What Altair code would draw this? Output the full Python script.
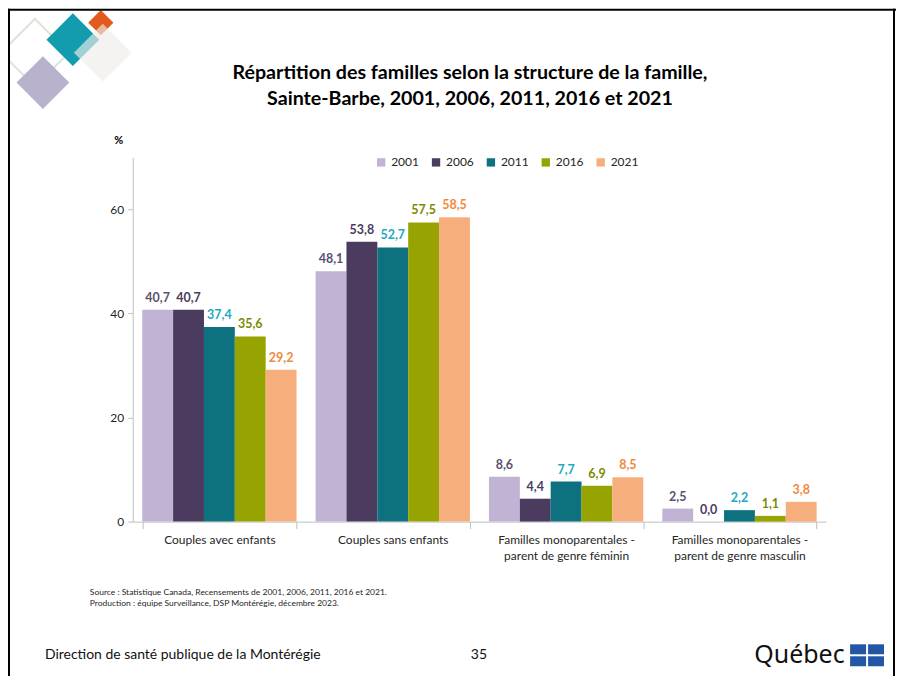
import altair as alt
import pandas as pd

# ---- data ----
categories = [
    "Couples avec enfants",
    "Couples sans enfants",
    "Familles monoparentales -|parent de genre féminin",
    "Familles monoparentales -|parent de genre masculin",
]
years = ["2001", "2006", "2011", "2016", "2021"]
values_2001 = [40.7, 48.1, 8.6, 2.5]
values_2006 = [40.7, 53.8, 4.4, 0.0]
values_2011 = [37.4, 52.7, 7.7, 2.2]
values_2016 = [35.6, 57.5, 6.9, 1.1]
values_2021 = [29.2, 58.5, 8.5, 3.8]
y_ticks = [0, 20, 40, 60]

bar_colors = ["#C0B3D4", "#4B3B5F", "#0E7180", "#97A300", "#F6AF7C"]
label_colors = ["#5D5070", "#4B3B5F", "#25A9C0", "#7E8A00", "#EF8A3C"]

series = [values_2001, values_2006, values_2011, values_2016, values_2021]
rows = []
for yr, vals, lc in zip(years, series, label_colors):
    for cat, v in zip(categories, vals):
        rows.append({"categorie": cat, "annee": yr, "valeur": v, "lcolor": lc})
df = pd.DataFrame(rows)

FONT = "Lato"

x_enc = alt.X(
    "categorie:N",
    sort=categories,
    scale=alt.Scale(paddingInner=0.11, paddingOuter=0.055),
    axis=alt.Axis(
        title=None, labelAngle=0, labelExpr="split(datum.label, '|')",
        tickBand="extent", domainColor="#BFBFBF", tickColor="#BFBFBF",
        tickSize=7, labelFontSize=12, labelColor="#262626", labelFont=FONT,
        labelPadding=6, labelLineHeight=16,
    ),
)
xoff_enc = alt.XOffset("annee:N", sort=years, scale=alt.Scale(paddingInner=0, paddingOuter=0))
y_enc = alt.Y(
    "valeur:Q",
    scale=alt.Scale(domain=[0, 70], nice=False),
    axis=alt.Axis(
        title=None, values=y_ticks, grid=False, domainColor="#BFBFBF",
        tickColor="#BFBFBF", tickSize=5, labelFontSize=12, labelColor="#262626",
        labelFont=FONT, labelPadding=4,
    ),
)

base = alt.Chart(df)

bars = base.mark_bar().encode(
    x=x_enc, xOffset=xoff_enc, y=y_enc,
    color=alt.Color(
        "annee:N",
        scale=alt.Scale(domain=years, range=bar_colors),
        legend=alt.Legend(
            orient="none", direction="horizontal", legendX=243, legendY=-1,
            title=None, symbolType="square", symbolSize=70, symbolStrokeWidth=0,
            labelFontSize=12, labelFont=FONT, labelColor="#262626",
            labelOffset=4, columnPadding=11,
        ),
    ),
)

labels = base.transform_calculate(
    txt="replace(format(datum.valeur, '.1f'), '.', ',')"
).mark_text(
    dy=-5, baseline="bottom", fontWeight="bold", fontSize=12.5, font=FONT
).encode(
    x=alt.X("categorie:N", sort=categories),
    xOffset=alt.XOffset("annee:N", sort=years),
    y="valeur:Q",
    text="txt:N",
    color=alt.Color("lcolor:N", scale=None),
)

one = alt.Data(values=[{}])


def txt(text, x, y, size, bold=False, align="left", color="#000000", font=FONT):
    return alt.Chart(one).mark_text(
        text=text, fontSize=size, fontWeight="bold" if bold else "normal",
        align=align, baseline="middle", color=color, font=font,
    ).encode(x=alt.value(x), y=alt.value(y))


def diamond(x, y, size, color, opacity=1.0, filled=True, stroke=None):
    kw = dict(angle=45, size=size, opacity=opacity, filled=filled)
    if filled:
        kw["color"] = color
    else:
        kw["stroke"] = stroke
        kw["strokeWidth"] = 2
    return alt.Chart(one).mark_square(**kw).encode(x=alt.value(x), y=alt.value(y))


def rect(x, x2, y, y2, color):
    return alt.Chart(one).mark_rect(color=color).encode(
        x=alt.value(x), x2=alt.value(x2), y=alt.value(y), y2=alt.value(y2)
    )


def rule(x, x2, y, y2):
    return alt.Chart(one).mark_rule(color="#000000", strokeWidth=2).encode(
        x=alt.value(x), x2=alt.value(x2), y=alt.value(y), y2=alt.value(y2)
    )


decor = [
    diamond(-98, -105, 2300, None, filled=False, stroke="#DCE3D8"),
    diamond(-90, -75, 1400, "#B8B2CC"),
    diamond(-60, -118, 1400, "#139BAE"),
    diamond(-32, -135, 320, "#E35A1F"),
    diamond(-30, -105, 1680, "#EEECEA", opacity=0.65),
    txt("Répartition des familles selon la structure de la famille,", 338, -85, 19.7, bold=True, align="center"),
    txt("Sainte-Barbe, 2001, 2006, 2011, 2016 et 2021", 338, -59, 19.7, bold=True, align="center"),
    txt("%", -14, -16, 11, bold=True, align="center"),
    txt("Source : Statistique Canada, Recensements de 2001, 2006, 2011, 2016 et 2021.", -43, 436, 8.5, color="#262626"),
    txt("Production : équipe Surveillance, DSP Montérégie, décembre 2023.", -43, 447, 8.5, color="#262626"),
    txt("Direction de santé publique de la Montérégie", -88, 499, 14, color="#111111"),
    txt("35", 347, 499, 14, align="center", color="#111111"),
    txt("Québec", 623, 499, 25, color="#111111", font="Noto Sans"),
    rect(719, 735, 488, 498, "#2357A6"),
    rect(737, 753, 488, 498, "#2357A6"),
    rect(719, 735, 500, 510, "#2357A6"),
    rect(737, 753, 500, 510, "#2357A6"),
    rule(-125, 765, -148, -148),
    rule(-124, -124, -149, 520),
    rule(763, 763, -149, 520),
]

chart = alt.layer(bars, labels, *decor).properties(
    width=695,
    height=365,
    padding={"left": 125, "top": 149, "right": 70, "bottom": 154},
    autosize=alt.AutoSizeParams(type="none"),
    background="#FFFFFF",
).configure_view(stroke=None)

chart.save("out.html", embed_options={"renderer": "svg", "actions": False})
